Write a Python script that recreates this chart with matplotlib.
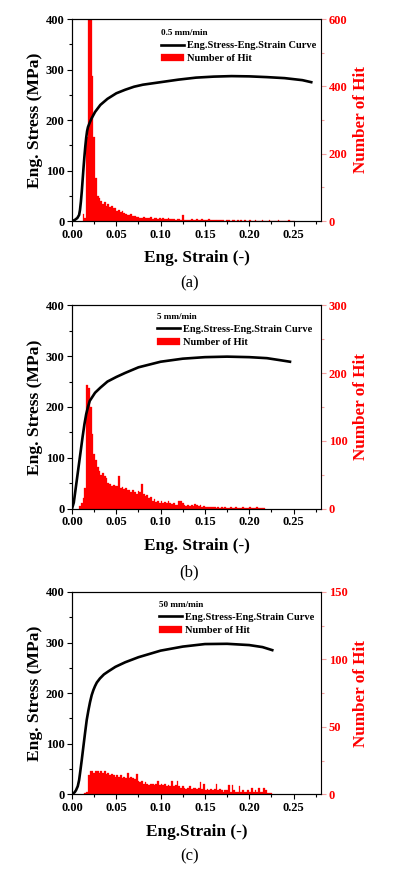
import numpy as np
import matplotlib
matplotlib.use("Agg")
import matplotlib.pyplot as plt

# ---- stress-strain curves
strain_a = [0, 0.003, 0.006, 0.008, 0.009, 0.010, 0.011, 0.012, 0.013, 0.014, 0.015,
            0.016, 0.017, 0.018, 0.020, 0.022, 0.026, 0.032, 0.040, 0.050, 0.060,
            0.070, 0.080, 0.100, 0.120, 0.140, 0.160, 0.180, 0.200, 0.220, 0.240,
            0.260, 0.270]
stress_a = [0, 2, 6, 12, 22, 38, 58, 82, 106, 128, 148,
            165, 178, 186, 195, 203, 216, 230, 242, 253, 260,
            266, 270, 275, 280, 284, 286, 287, 286.5, 285, 283,
            279, 275]

strain_b = [0, 0.002, 0.004, 0.006, 0.008, 0.010, 0.012, 0.014, 0.016, 0.018,
            0.020, 0.026, 0.032, 0.040, 0.050, 0.060, 0.075, 0.100, 0.125, 0.150,
            0.175, 0.200, 0.220, 0.235, 0.246]
stress_b = [0, 12, 38, 64, 90, 116, 142, 166, 186, 200,
            212, 228, 238, 250, 259, 267, 278, 289, 295, 298,
            299, 298, 296, 292, 289]

strain_c = [0, 0.003, 0.0045, 0.0065, 0.008, 0.009, 0.011, 0.0128, 0.0147, 0.0166,
            0.0185, 0.0203, 0.0222, 0.0241, 0.026, 0.028, 0.0315, 0.036, 0.041, 0.049,
            0.060, 0.075, 0.100, 0.125, 0.150, 0.175, 0.200, 0.215, 0.226]
stress_c = [0, 4, 8, 16, 28, 41, 68, 94, 121, 147,
            166, 182, 196, 206, 214, 221, 229, 237, 243, 252,
            261, 271, 284, 292, 297, 297.5, 295, 291, 285]

# ---- acoustic emission hits, bins of 0.002 strain
bin_width = 0.002
hit_start_a = 0.012
hits_a = [20, 8, 250, 680, 660, 430, 250, 127, 75, 68,
          60, 52, 56, 46, 50, 42, 45, 38, 40, 30,
          33, 27, 30, 23, 22, 19, 17, 21, 15, 16,
          13, 12, 10, 9, 12, 8, 10, 9, 12, 7,
          8, 10, 6, 8, 6, 9, 5, 7, 9, 6,
          5, 7, 4, 5, 6, 4, 18, 4, 3, 4,
          3, 5, 3, 4, 6, 3, 4, 5, 3, 4,
          3, 5, 2, 3, 4, 2, 3, 2, 2, 3,
          1, 2, 2, 1, 2, 3, 1, 2, 1, 2,
          1, 2, 1, 1, 2, 1, 1, 2, 1, 1,
          1, 2, 1, 1, 1, 2, 1, 1, 1, 1,
          2, 1, 1, 1, 1, 1, 2, 1, 1, 1]

hit_start_b = 0.008
hits_b = [4, 8, 15, 30, 182, 178, 150, 110, 80, 72,
          62, 55, 50, 52, 48, 45, 38, 36, 34, 35,
          33, 34, 48, 30, 32, 29, 30, 28, 27, 25,
          28, 24, 22, 26, 24, 36, 22, 18, 20, 15,
          17, 12, 14, 10, 12, 9, 11, 9, 10, 8,
          11, 9, 7, 9, 6, 5, 11, 12, 8, 5,
          4, 5, 4, 6, 4, 7, 5, 4, 6, 3,
          4, 3, 2, 3, 2, 3, 2, 1, 2, 1,
          2, 1, 2, 1, 1, 2, 1, 1, 2, 1,
          1, 1, 2, 1, 1, 1, 2, 1, 1, 1,
          2, 1, 1, 1, 1]

hit_start_c = 0.014
hits_c = [1, 2, 14, 17, 17, 16, 17, 17, 16, 17,
          16, 17, 15, 16, 14, 15, 14, 13, 14, 13,
          14, 12, 13, 12, 16, 12, 13, 12, 11, 15,
          10, 9, 10, 8, 9, 8, 7, 8, 8, 7,
          8, 10, 7, 8, 7, 8, 6, 7, 6, 10,
          6, 7, 10, 6, 5, 6, 5, 4, 5, 6,
          4, 5, 5, 4, 5, 9, 4, 8, 3, 4,
          3, 4, 3, 4, 8, 3, 4, 3, 2, 3,
          3, 7, 2, 7, 3, 2, 2, 6, 2, 3,
          2, 2, 3, 2, 5, 2, 3, 2, 5, 2,
          2, 5, 3, 1, 1, 1]

rates = ["0.5 mm/min", "5 mm/min", "50 mm/min"]
hit_max = [600, 300, 150]
xlabels = ["Eng. Strain (-)", "Eng. Strain (-)", "Eng.Strain (-)"]
captions = ["(a)", "(b)", "(c)"]

plt.rcParams['font.family'] = ['Liberation Serif', 'DejaVu Serif']
plt.rcParams['font.weight'] = 'bold'
plt.rcParams['axes.labelweight'] = 'bold'

fig = plt.figure(figsize=(3.99, 8.74), dpi=100)

# axes boxes in figure fraction
rects = [[0.1805, 0.7471, 0.624, 0.2311],
         [0.1805, 0.4180, 0.624, 0.2327],
         [0.1805, 0.0912, 0.624, 0.2315]]
caption_y = [0.676, 0.345, 0.020]
legend_anchor = [(0.357, 0.950), (0.341, 0.962), (0.349, 0.955)]

pink = '#f4a0a0'

panels = [(strain_a, stress_a, hit_start_a, hits_a),
          (strain_b, stress_b, hit_start_b, hits_b),
          (strain_c, stress_c, hit_start_c, hits_c)]

for i, (strain, stress, h0, hits) in enumerate(panels):
    ax = fig.add_axes(rects[i])
    ax2 = ax.twinx()

    centers = h0 + bin_width / 2 + bin_width * np.arange(len(hits))
    bars = ax2.bar(centers, hits, width=bin_width, color='red',
                   edgecolor='red', linewidth=0.2, label='Number of Hit')
    line, = ax.plot(strain, stress, color='black', lw=1.9,
                    label='Eng.Stress-Eng.Strain Curve')

    ax.set_zorder(ax2.get_zorder() + 1)
    ax.patch.set_visible(False)

    ax.set_xlim(0, 0.281)
    ax.set_ylim(0, 400)
    ax2.set_ylim(0, hit_max[i])

    ax.set_xticks([0, 0.05, 0.10, 0.15, 0.20, 0.25])
    ax.set_xticklabels(['0.00', '0.05', '0.10', '0.15', '0.20', '0.25'])
    ax.set_xticks(np.arange(0.025, 0.28, 0.05), minor=True)
    ax.set_yticks([0, 100, 200, 300, 400])
    ax.set_yticks([50, 150, 250, 350], minor=True)
    step = hit_max[i] / 3
    ax2.set_yticks([0, step, 2 * step, 3 * step])
    ax2.set_yticks([step / 2, 1.5 * step, 2.5 * step], minor=True)

    ax.tick_params(which='both', direction='out', labelsize=9, width=0.8)
    ax.tick_params(which='major', length=3.5, pad=2)
    ax.tick_params(which='minor', length=2)
    ax2.tick_params(which='both', direction='out', colors=pink, labelcolor='red',
                    labelsize=9, width=0.8)
    ax2.tick_params(which='major', length=3.5, pad=2)
    ax2.tick_params(which='minor', length=2)
    ax2.spines['right'].set_color(pink)
    for s in ['left', 'top', 'bottom']:
        ax.spines[s].set_linewidth(0.8)
    ax2.spines['right'].set_linewidth(0.8)

    ax.set_xlabel(xlabels[i], fontsize=12.4, labelpad=7)
    ax.set_ylabel('Eng. Stress (MPa)', fontsize=12.6, labelpad=2)
    ax2.set_ylabel('Number of Hit', fontsize=12.3, color='red', labelpad=4)

    ax.legend([line, bars], ['Eng.Stress-Eng.Strain Curve', 'Number of Hit'],
              title=rates[i], loc='upper left', bbox_to_anchor=legend_anchor[i],
              frameon=False, fontsize=7.5,
              title_fontproperties={'size': 6.6, 'weight': 'bold'},
              alignment='left', handlelength=2.2, handletextpad=0.3,
              labelspacing=0.36, borderpad=0, borderaxespad=0)

    fig.text(0.475, caption_y[i], captions[i], fontsize=12, fontweight='normal',
             ha='center', va='center')

fig.savefig('out.png', dpi=100)
